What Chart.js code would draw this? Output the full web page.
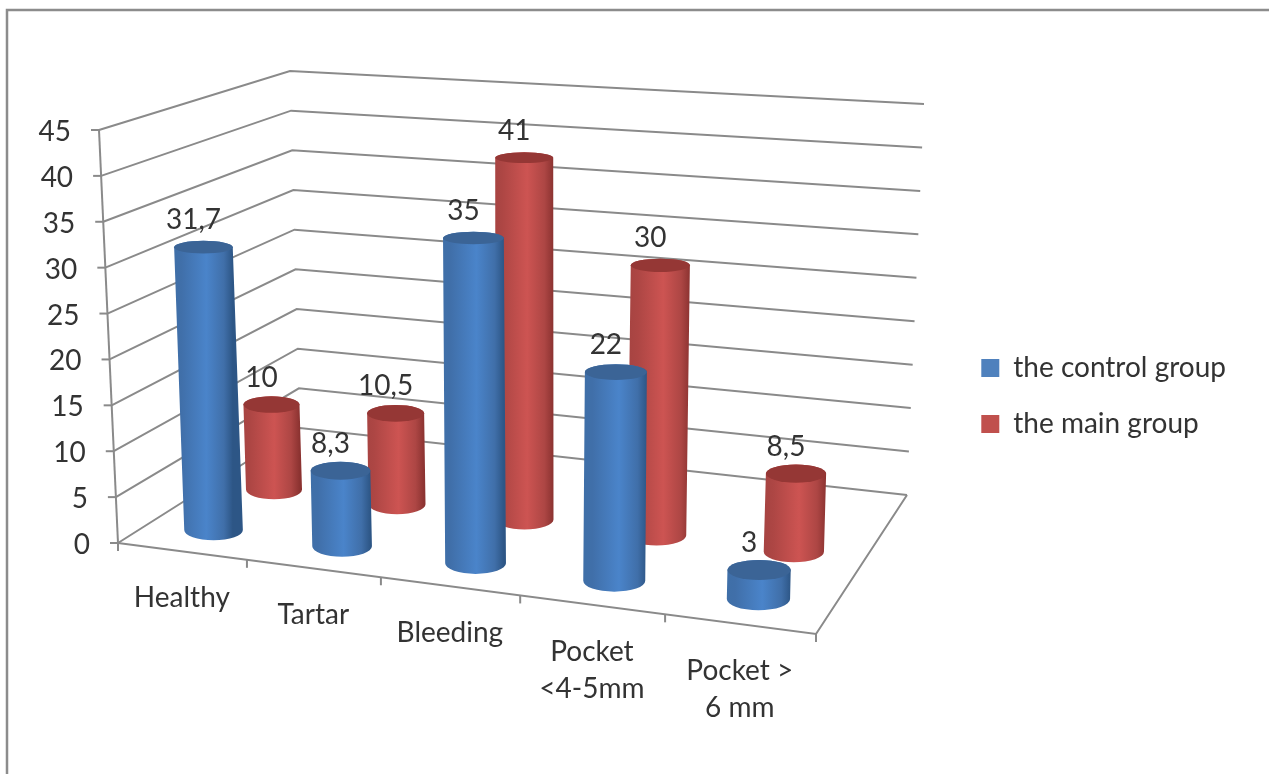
<!DOCTYPE html>
<html>
<head>
<meta charset="utf-8">
<title>Chart</title>
<script src="https://cdn.jsdelivr.net/npm/chart.js@4"></script>
<style>
  body { margin: 0; background: #fff; }
  canvas { display: block; }
</style>
</head>
<body>
<canvas id="myChart" width="1269" height="774"></canvas>
<script>
const categories = ["Healthy", "Tartar", "Bleeding", ["Pocket", "<4-5mm"], ["Pocket >", "6 mm"]];
const controlGroup = [31.7, 8.3, 35, 22, 3];
const mainGroup = [10, 10.5, 41, 30, 8.5];

const FONT = "Lato";
const FONT_SIZE = 28;
const TEXT_COLOR = "#333333";
const LINE_COLOR = "#8a8a8a";
// columns stand a little inside the wall grid, the front of the box is foreshortened
const COLUMN_HEIGHT = 0.987;

// corners of the 3D box as they appear on screen: front-left, front-right, back-right, back-left
const floorQuad = [[118, 543], [816, 634], [907, 495], [300, 428]];
const roofQuad = [[99, 130], [828, 175], [924, 104], [290, 71]];

const quadMap = (q) => {
  const [[x0, y0], [x1, y1], [x2, y2], [x3, y3]] = q;
  const dx1 = x1 - x2, dx2 = x3 - x2, sx = x0 - x1 + x2 - x3;
  const dy1 = y1 - y2, dy2 = y3 - y2, sy = y0 - y1 + y2 - y3;
  const den = dx1 * dy2 - dx2 * dy1;
  const g = (sx * dy2 - dx2 * sy) / den;
  const h = (dx1 * sy - sx * dy1) / den;
  const a = x1 - x0 + g * x1, b = x3 - x0 + h * x3;
  const d = y1 - y0 + g * y1, e = y3 - y0 + h * y3;
  return (u, w) => {
    const k = g * u + h * w + 1;
    return [(a * u + b * w + x0) / k, (d * u + e * w + y0) / k];
  };
};
const floorAt = quadMap(floorQuad);
const roofAt = quadMap(roofQuad);

// u along the categories, w into the depth, v up the value axis (all 0..1)
const project = (u, w, v) => {
  const f = floorAt(u, w);
  const r = roofAt(u, w);
  return [f[0] + (r[0] - f[0]) * v, f[1] + (r[1] - f[1]) * v];
};

const uOf = (chart, px) => (px - chart.scales.x.left) / chart.scales.x.width;
const vOf = (chart, px) => (chart.scales.y.bottom - px) / chart.scales.y.height;

const strokePath = (ctx, pts) => {
  ctx.beginPath();
  pts.forEach((p, i) => (i ? ctx.lineTo(p[0], p[1]) : ctx.moveTo(p[0], p[1])));
  ctx.stroke();
};

class CylinderController extends Chart.BarController {
  draw() {
    const chart = this.chart;
    const ctx = chart.ctx;
    const ds = this.getDataset();
    const halfWidth = (u, hw) => (project(u + hw, ds.depth, 0)[0] - project(u - hw, ds.depth, 0)[0]) / 2;
    this.getMeta().data.forEach((bar) => {
      const u = uOf(chart, bar.x);
      const hw = bar.width / chart.scales.x.width / 2;
      const v = vOf(chart, bar.y) * COLUMN_HEIGHT;
      const base = project(u, ds.depth, vOf(chart, bar.base));
      const top = project(u, ds.depth, v);
      // damp the widening towards the right, the columns barely change width
      const rx = (halfWidth(u, hw) + halfWidth(0.5, hw)) / 2;
      const ryB = rx * 0.35;
      // the caps get flatter the closer they are to eye level
      const ryT = rx * (0.33 - 0.16 * v);

      const grad = ctx.createLinearGradient(top[0] - rx, 0, top[0] + rx, 0);
      grad.addColorStop(0, ds.shade[0]);
      grad.addColorStop(0.12, ds.shade[1]);
      grad.addColorStop(0.55, ds.shade[2]);
      grad.addColorStop(0.85, ds.shade[1]);
      grad.addColorStop(1, ds.shade[3]);

      ctx.save();
      ctx.beginPath();
      ctx.moveTo(top[0] - rx, top[1]);
      ctx.lineTo(base[0] - rx, base[1]);
      ctx.ellipse(base[0], base[1], rx, ryB, 0, Math.PI, 0, true);
      ctx.lineTo(top[0] + rx, top[1]);
      ctx.ellipse(top[0], top[1], rx, ryT, 0, 0, Math.PI, true);
      ctx.closePath();
      ctx.fillStyle = grad;
      ctx.fill();

      ctx.beginPath();
      ctx.ellipse(top[0], top[1], rx, ryT, 0, 0, Math.PI * 2);
      ctx.fillStyle = ds.capColor;
      ctx.fill();
      ctx.restore();
    });
  }
}
CylinderController.id = "cylinder";
CylinderController.defaults = Chart.BarController.defaults;
CylinderController.overrides = Chart.BarController.overrides;
Chart.register(CylinderController);

const box3d = {
  id: "box3d",
  beforeDraw(chart) {
    const ctx = chart.ctx;
    ctx.save();
    ctx.strokeStyle = "#8c8c8c";
    ctx.lineWidth = 2.5;
    strokePath(ctx, [[7, 800], [7, 10], [1300, 10]]);
    ctx.restore();
  },
  beforeDatasetsDraw(chart) {
    const ctx = chart.ctx;
    const y = chart.scales.y;
    ctx.save();
    ctx.strokeStyle = LINE_COLOR;
    ctx.lineWidth = 2;
    ctx.fillStyle = TEXT_COLOR;
    ctx.font = `${FONT_SIZE}px ${FONT}`;
    ctx.textAlign = "right";
    ctx.textBaseline = "middle";

    y.ticks.forEach((tick) => {
      const v = vOf(chart, y.getPixelForValue(tick.value));
      const a = project(0, 0, v);
      // wall lines
      strokePath(ctx, [a, project(0, 1, v), project(1, 1, v)]);
      // tick mark and number
      strokePath(ctx, [a, [a[0] - 8, a[1]]]);
      ctx.fillText(tick.label, a[0] - 28, a[1] + 2);
    });

    // left axis and floor outline
    strokePath(ctx, [project(0, 0, 0), project(0, 0, 1)]);
    strokePath(ctx, [project(0, 0, 0), project(1, 0, 0), project(1, 1, 0)]);

    // category ticks along the front edge
    categories.forEach((c, i) => {
      const e = project(i / categories.length, 0, 0);
      strokePath(ctx, [e, [e[0], e[1] + 8]]);
    });
    const end = project(1, 0, 0);
    strokePath(ctx, [end, [end[0], end[1] + 8]]);
    ctx.restore();
  },
  afterDatasetsDraw(chart) {
    const ctx = chart.ctx;
    const x = chart.scales.x;
    ctx.save();
    ctx.fillStyle = TEXT_COLOR;
    ctx.font = `${FONT_SIZE}px ${FONT}`;
    ctx.textAlign = "center";
    ctx.textBaseline = "middle";

    // category labels under the front edge
    x.ticks.forEach((tick, i) => {
      const p = project(uOf(chart, x.getPixelForTick(i)), 0, 0);
      const lines = [].concat(tick.label);
      lines.forEach((line, k) => ctx.fillText(line, p[0], p[1] + 47 + k * 37));
    });

    // value labels over each cylinder
    chart.data.datasets.forEach((ds, d) => {
      chart.getDatasetMeta(d).data.forEach((bar, i) => {
        const top = project(uOf(chart, bar.x), ds.depth, vOf(chart, bar.y) * COLUMN_HEIGHT);
        const text = String(ds.data[i]).replace(".", ",");
        ctx.fillText(text, top[0] - 10, top[1] - 27);
      });
    });
    ctx.restore();
  },
};

new Chart(document.getElementById("myChart"), {
  type: "cylinder",
  data: {
    labels: categories,
    datasets: [
      {
        label: "the control group",
        data: controlGroup,
        backgroundColor: "#4f81bd",
        capColor: "#3b6496",
        shade: ["#3f6fa8", "#406fa9", "#4a84ca", "#2d5686"],
        depth: 0.16,
      },
      {
        label: "the main group",
        data: mainGroup,
        backgroundColor: "#c0504d",
        capColor: "#953735",
        shade: ["#a84442", "#ad4644", "#cd5452", "#8c3331"],
        depth: 0.49,
      },
    ],
  },
  options: {
    responsive: false,
    animation: false,
    layout: { padding: { top: 18, right: 33 } },
    datasets: { cylinder: { grouped: false, barPercentage: 0.447, categoryPercentage: 1 } },
    scales: {
      x: { type: "category", offset: true, display: false },
      y: { type: "linear", min: 0, max: 45, ticks: { stepSize: 5 }, display: false },
    },
    plugins: {
      legend: {
        position: "right",
        labels: {
          boxWidth: 18,
          boxHeight: 18,
          padding: 28,
          color: TEXT_COLOR,
          font: { family: FONT, size: FONT_SIZE },
        },
      },
      tooltip: { enabled: false },
    },
  },
  plugins: [box3d],
});
</script>
</body>
</html>
